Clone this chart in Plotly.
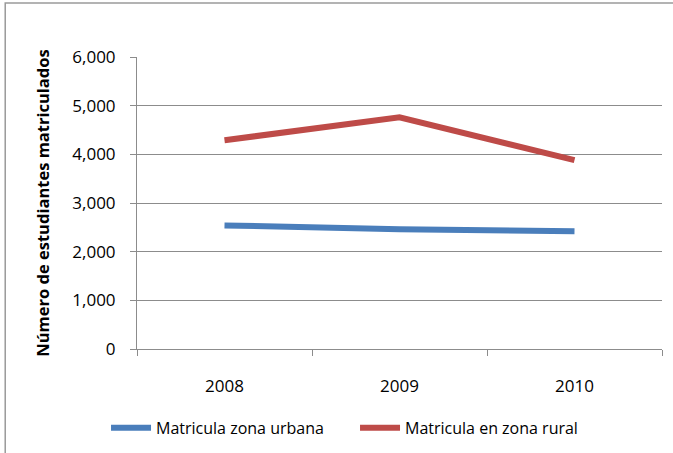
import plotly.graph_objects as go

years = ["2008", "2009", "2010"]
urbana = [2540, 2460, 2420]
rural = [4290, 4760, 3880]

y_ticks = [0, 1000, 2000, 3000, 4000, 5000, 6000]
y_labels = ["0", "1,000", "2,000", "3,000", "4,000", "5,000", "6,000"]

FONT = "Open Sans, Lato, sans-serif"
GRID = "#8c8c8c"

fig = go.Figure()
fig.add_trace(go.Scatter(
    x=years, y=urbana, mode="lines", name="Matricula zona urbana",
    line={"color": "#4A7EBB", "width": 6},
))
fig.add_trace(go.Scatter(
    x=years, y=rural, mode="lines", name="Matricula en zona rural",
    line={"color": "#BE4B48", "width": 6},
))

fig.update_layout(
    width=673,
    height=453,
    margin={"l": 137, "r": 11, "t": 57, "b": 104, "autoexpand": False},
    paper_bgcolor="white",
    plot_bgcolor="white",
    font={"family": FONT, "color": "#000000"},
    showlegend=True,
    legend={
        "orientation": "h",
        "x": -0.059,
        "y": -0.27,
        "xanchor": "left",
        "yanchor": "middle",
        "font": {"size": 16},
        "entrywidth": 194,
        "itemwidth": 40,
    },
    shapes=[{
        "type": "rect",
        "xref": "paper",
        "yref": "paper",
        "x0": -0.251,
        "x1": 1.5,
        "y0": -0.8,
        "y1": 1.185,
        "line": {"color": "#9a9a9a", "width": 1.5},
        "fillcolor": "rgba(0,0,0,0)",
        "layer": "below",
    }],
)
fig.update_xaxes(
    type="category",
    range=[-0.5, 2.5],
    tickson="boundaries",
    ticks="outside",
    ticklen=6,
    tickcolor=GRID,
    showline=True,
    linecolor=GRID,
    showgrid=False,
    tickfont={"size": 17},
    ticklabelstandoff=22,
    fixedrange=True,
)
fig.update_yaxes(
    range=[0, 6000],
    tickvals=y_ticks,
    ticktext=y_labels,
    ticks="outside",
    ticklen=6,
    tickcolor=GRID,
    showline=True,
    linecolor=GRID,
    showgrid=True,
    gridcolor=GRID,
    gridwidth=1,
    zeroline=False,
    tickfont={"size": 17},
    ticklabelstandoff=11,
    title={"text": "Número de estudiantes matriculados", "font": {"size": 16.5, "family": FONT, "weight": "bold"}, "standoff": 18},
    fixedrange=True,
)

fig.write_html(
    "out.html",
    config={"displayModeBar": False},
    post_script="document.body.style.margin='0';",
)
